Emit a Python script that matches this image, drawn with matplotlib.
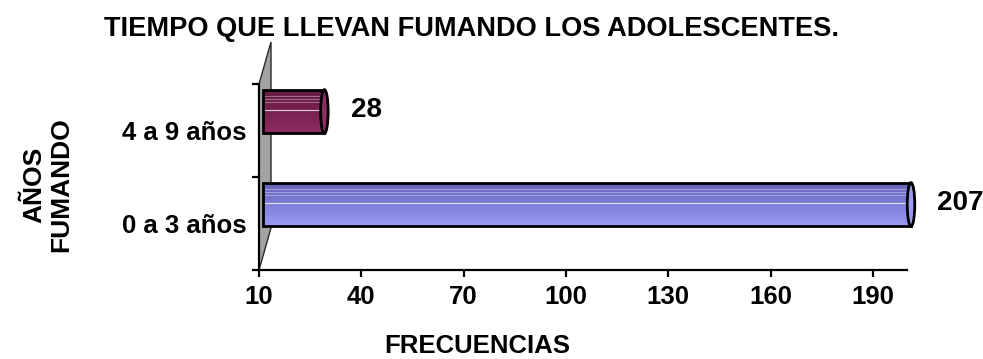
import numpy as np
import matplotlib
matplotlib.use("Agg")
import matplotlib.pyplot as plt
from matplotlib.transforms import ScaledTranslation
from matplotlib.patches import Polygon, Ellipse
from matplotlib.colors import LinearSegmentedColormap

# Data
categories = ["0 a 3 años", "4 a 9 años"]
values = [207, 28]
xticks = [10, 40, 70, 100, 130, 160, 190]
title = "TIEMPO QUE LLEVAN FUMANDO LOS ADOLESCENTES."
xlabel = "FRECUENCIAS"
ylabel = "AÑOS\nFUMANDO"

# Style
XMIN, XMAX = 10, 200
bar_colors = [("#6262b8", "#9a9af4"), ("#62183f", "#8e2c62")]
FS = 18.5
plt.rcParams["font.family"] = ["Liberation Sans", "DejaVu Sans"]
plt.rcParams["font.weight"] = "bold"

fig = plt.figure(figsize=(9.83, 3.59), dpi=100)
W, H = 983, 359
ax = fig.add_axes([259 / W, 1 - 270 / H, 648 / W, 186 / H])
ax.set_xlim(XMIN, XMAX)
ax.set_ylim(-0.5, len(categories) - 0.5)

# Depth of the 3-D look: bars sit half-way back from the front plane
depth = ScaledTranslation(0.04, 0.19, fig.dpi_scale_trans)
bar_trans = ax.transData + depth

# Left side wall
wall = Polygon([(0, 0), (0, 1), (12 / 648, 1 + 42 / 186), (12 / 648, 42 / 186)],
               closed=True, transform=ax.transAxes, facecolor="#a3a3a3",
               edgecolor="#2a2a2a", linewidth=1.0, clip_on=False, zorder=0.5)
ax.add_patch(wall)

ypos = np.arange(len(categories))
ends = np.minimum(values, XMAX)
bh = 0.47
bars = ax.barh(ypos, ends - XMIN, left=XMIN, height=bh, facecolor="none",
               edgecolor="black", linewidth=2.0, zorder=3)

for i, b in enumerate(bars):
    b.set_transform(bar_trans)
    b.set_clip_on(False)
    top_c, bot_c = bar_colors[i]
    cmap = LinearSegmentedColormap.from_list("g", [top_c, bot_c])
    grad = np.linspace(0, 1, 64).reshape(-1, 1)
    x0, x1 = XMIN, ends[i]
    y0, y1 = ypos[i] - bh / 2, ypos[i] + bh / 2
    im = ax.imshow(grad, cmap=cmap, aspect="auto", origin="upper",
                   extent=(x0, x1, y0, y1), zorder=2, interpolation="bilinear")
    im.set_transform(bar_trans)
    im.set_clip_on(True)
    im.set_clip_path(b)
    # thin highlight lines along the cylinder
    for f, a in [(0.15, 0.35), (0.21, 0.35), (0.29, 0.35), (0.46, 0.8)]:
        yy = y1 - f * bh
        ax.plot([x0 + 0.5, x1 - 1.0], [yy, yy], color="white", lw=0.8,
                alpha=a, transform=bar_trans, zorder=2.5, clip_on=False)
    # rounded end cap
    cap = Ellipse((x1, ypos[i]), width=2.2, height=bh, transform=bar_trans,
                  facecolor=bot_c, edgecolor="black", linewidth=2.0,
                  zorder=3.5, clip_on=False)
    ax.add_patch(cap)
    ax.annotate(str(values[i]), xy=(x1, ypos[i]), xycoords=bar_trans,
                xytext=(19, 1), textcoords="offset points", ha="left",
                va="center", fontsize=20, fontweight="bold")

ax.set_xlim(XMIN, XMAX)
ax.set_ylim(-0.5, len(categories) - 0.5)

for s in ["top", "right"]:
    ax.spines[s].set_visible(False)
for s in ["left", "bottom"]:
    ax.spines[s].set_linewidth(1.6)
    ax.spines[s].set_zorder(4)

ax.set_xticks(xticks)
ax.set_xticklabels([str(t) for t in xticks])
ax.tick_params(axis="x", direction="out", length=5, width=1.6, pad=6,
               labelsize=FS)
ax.set_yticks(ypos)
ax.set_yticklabels(categories)
ax.tick_params(axis="y", which="major", length=0, pad=9, labelsize=FS)
ax.set_yticks([-0.5, 0.5, 1.5], minor=True)
ax.tick_params(axis="y", which="minor", direction="out", length=5, width=1.6)
for lab in ax.get_xticklabels() + ax.get_yticklabels():
    lab.set_fontweight("bold")

fig.text(471 / W, 1 - 29 / H, title, ha="center", va="center",
         fontsize=19.6, fontweight="bold")
fig.text(477 / W, 1 - 346 / H, xlabel, ha="center", va="center",
         fontsize=FS, fontweight="bold")
fig.text(48 / W, 1 - 185 / H, ylabel, ha="center", va="center",
         rotation=90, multialignment="center", fontsize=19,
         fontweight="bold", linespacing=1.15)

fig.savefig("out.png", dpi=100)
